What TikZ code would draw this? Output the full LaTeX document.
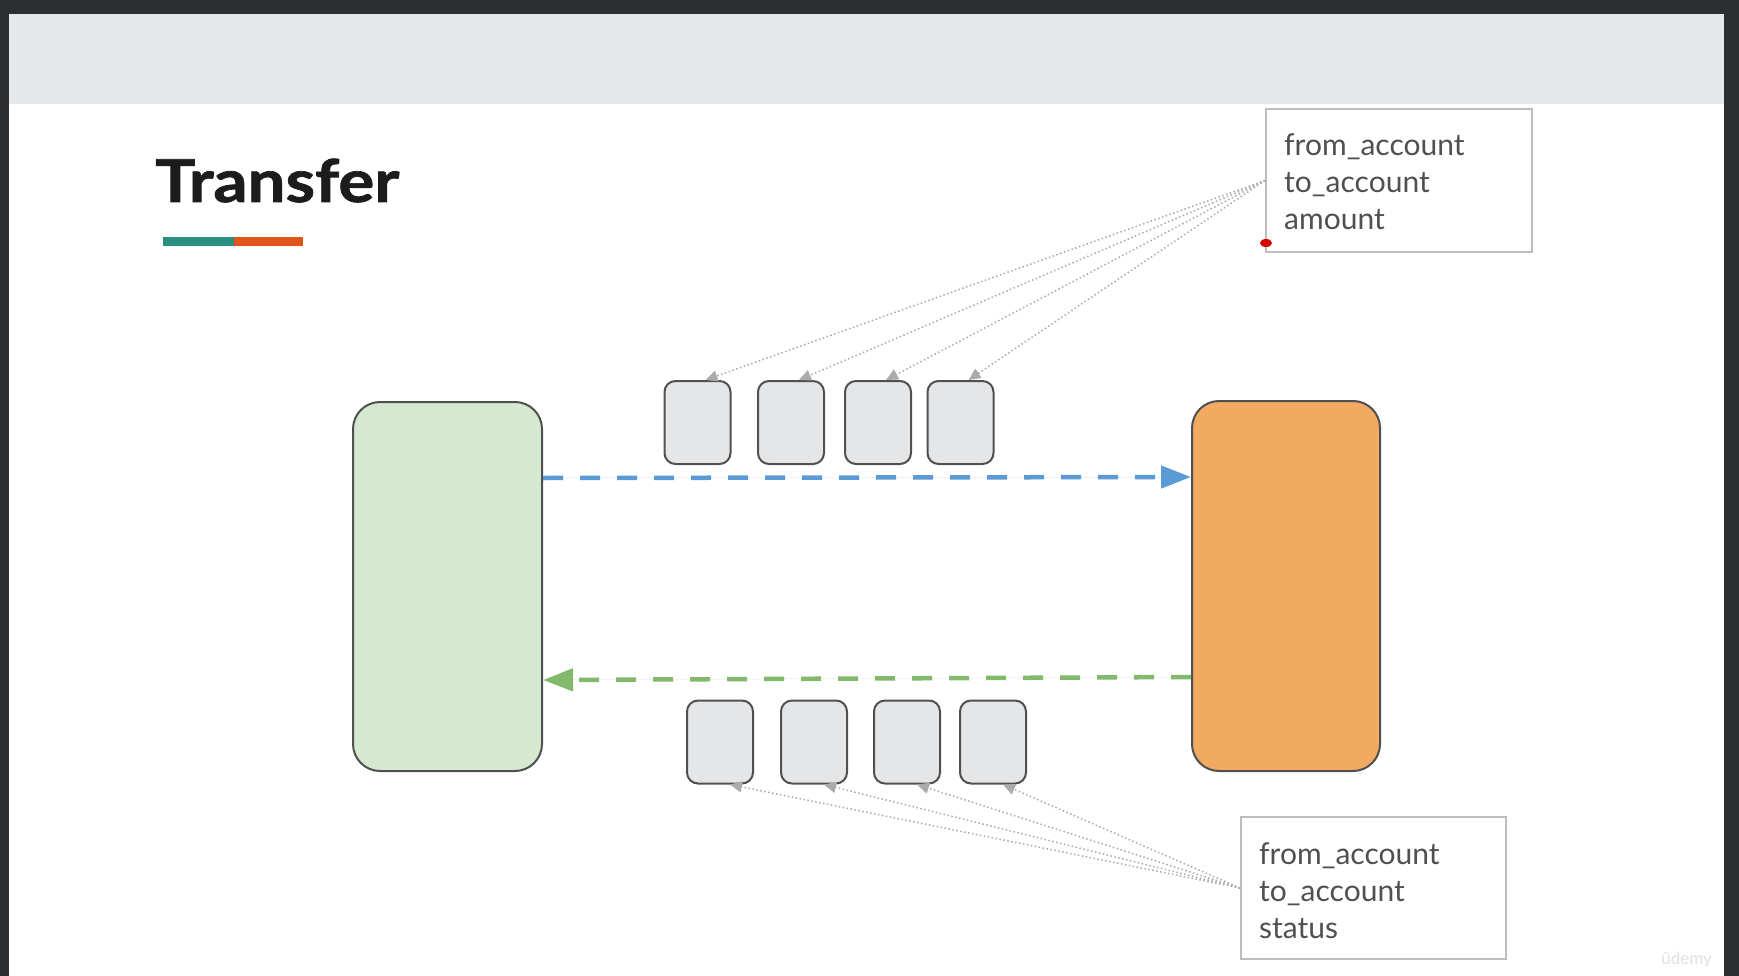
\documentclass[tikz,border=0pt]{standalone}
\usepackage{fontspec}
\setmainfont{Lato}
\usetikzlibrary{arrows.meta}
\definecolor{framedark}{HTML}{2D2E30}
\definecolor{headband}{HTML}{E4E8EA}
\definecolor{titleink}{HTML}{1C1C1C}
\definecolor{barteal}{HTML}{2A8F7F}
\definecolor{barorange}{HTML}{E0561A}
\definecolor{greenfill}{HTML}{D5E8D0}
\definecolor{orangefill}{HTML}{F2A962}
\definecolor{msgfill}{HTML}{E4E6E8}
\definecolor{edgeink}{HTML}{505050}
\definecolor{reqblue}{HTML}{5B9BD5}
\definecolor{respgreen}{HTML}{82B96A}
\definecolor{hintgray}{HTML}{ABABAB}
\definecolor{textgray}{HTML}{505050}
\definecolor{boxline}{HTML}{BDBDBD}
\begin{document}
\begin{tikzpicture}[x=1pt,y=-1pt,
  bigbox/.style={draw=edgeink, line width=2pt, rounded corners=27pt,
    minimum width=189pt, minimum height=369pt, inner sep=0pt},
  msgbox/.style={draw=edgeink, line width=2pt, rounded corners=11pt, fill=msgfill,
    minimum width=66pt, minimum height=83pt, inner sep=0pt},
  fieldbox/.style={draw=boxline, line width=2pt, fill=white,
    minimum width=266pt, minimum height=143pt, inner sep=0pt},
  fieldtext/.style={anchor=base west, inner sep=0pt, text=textgray,
    font=\fontsize{30}{36}\selectfont},
  flow/.style={line width=4.5pt, dash pattern=on 20pt off 17pt,
    -{Triangle[length=30pt,width=22pt]}},
  hint/.style={draw=hintgray, line width=1.5pt, dash pattern=on 1.5pt off 2.5pt,
    -{Triangle[length=12pt,width=11pt,fill=hintgray]}}]
\useasboundingbox (0,0) rectangle (1739,976);
% slide frame and header band
\fill[framedark] (0,0) rectangle (1739,976);
\fill[white] (9,14) rectangle (1724,976);
\fill[headband] (9,14) rectangle (1724,104);

% title with its two-tone underline
\node[anchor=base west, inner sep=0pt, text=titleink,
  font=\fontsize{59}{59}\selectfont\bfseries\addfontfeatures{FakeBold=1.2}] (title) at (155,202)
  {\scalebox{1.14}[1]{Transfer}};
\fill[barteal] (163,237) rectangle (234,246);
\fill[barorange] (234,237) rectangle (303,246);

% the two services
\node[bigbox, fill=greenfill] (sender) at (447.5,586.5) {};
\node[bigbox, fill=orangefill, minimum width=188pt, minimum height=370pt] (receiver) at (1286,586) {};

% request messages
\node[msgbox] (q1) at (697.5,422.5) {};
\node[msgbox] (q2) at (791,422.5) {};
\node[msgbox] (q3) at (878,422.5) {};
\node[msgbox] (q4) at (960.5,422.5) {};

% response messages
\node[msgbox] (r1) at (720,742) {};
\node[msgbox] (r2) at (814,742) {};
\node[msgbox] (r3) at (907,742) {};
\node[msgbox] (r4) at (993,742) {};

% request / response flows
\draw[flow, draw=reqblue, fill=reqblue] ([yshift=108.5pt]sender.east) -- ([yshift=109pt]receiver.west);
\draw[flow, draw=respgreen, fill=respgreen] ([yshift=-91pt]receiver.west) -- ([yshift=-93.5pt]sender.east);

% request payload
\node[fieldbox] (params) at (1399,180.5) {};
\node[fieldtext] (pa) at (1284,156) {from\_account};
\node[fieldtext] (pb) at (1284,193) {to\_account};
\node[fieldtext] (pc) at (1284,230) {amount};

% response payload
\node[fieldbox, minimum width=265pt, minimum height=142pt] (result) at (1373.5,888) {};
\node[fieldtext] (sa) at (1259,864) {from\_account};
\node[fieldtext] (sb) at (1259,901) {to\_account};
\node[fieldtext] (sc) at (1259,938) {status};

% payload pointers
\foreach \m in {q1,q2,q3,q4}
  \draw[hint] (params.west) -- ([xshift=8pt]\m.north);
\foreach \m in {r1,r2,r3,r4}
  \draw[hint] (result.west) -- ([xshift=10pt]\m.south);

% pointer mark
\fill[red!85!black] (1266,243) ellipse (6pt and 4pt);

% watermark
\node[anchor=base east, inner sep=0pt, text=black!12,
  font=\fontsize{17}{17}\selectfont] (mark) at (1712,964) {ûdemy};
\end{tikzpicture}
\end{document}
